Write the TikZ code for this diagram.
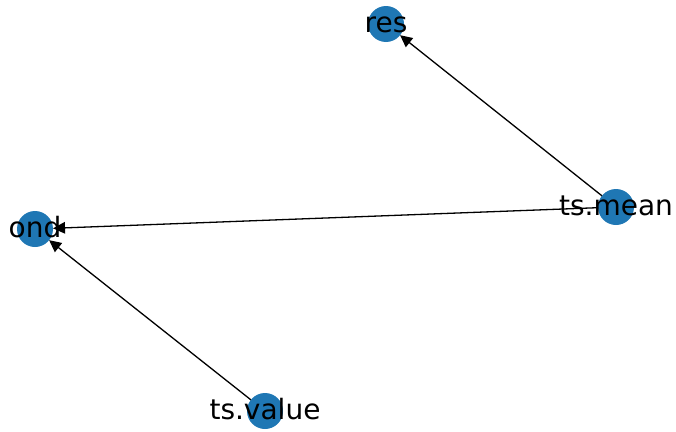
\documentclass[tikz,border=0pt]{standalone}
\usepackage{fontspec}
\setmainfont{DejaVu Sans}
\usetikzlibrary{arrows.meta}
\definecolor{nodeblue}{HTML}{1F77B4}
\tikzset{
  x=1pt, y=-1pt,
  vertex/.style={circle, fill=nodeblue, minimum size=36pt, inner sep=0pt, outer sep=0pt},
  vlabel/.style={anchor=base, inner sep=0pt, font=\fontsize{28}{30}\selectfont},
  edge/.style={line width=1.3pt, -{Triangle[length=12pt, width=11.5pt]}}
}
\begin{document}
\begin{tikzpicture}
\useasboundingbox (0,0) rectangle (676,431);
\clip (0,0) rectangle (676,431);
% vertices
\node[vertex] (res) at (386,24) {};
\node[vertex] (mean) at (616,207) {};
\node[vertex] (ond) at (35,229) {};
\node[vertex] (value) at (265,411) {};
% directed edges, ending on the circle rims
\draw[edge] (mean) -- (res);
\draw[edge] (mean) -- (ond);
\draw[edge] (value) -- (ond);
% labels
\node[vlabel] (lres) at (386,32) {res};
\node[vlabel] (lmean) at (616,215) {ts.mean};
\node[vlabel] (lond) at (35,237) {ond};
\node[vlabel] (lvalue) at (265,419) {ts.value};
\end{tikzpicture}
\end{document}
